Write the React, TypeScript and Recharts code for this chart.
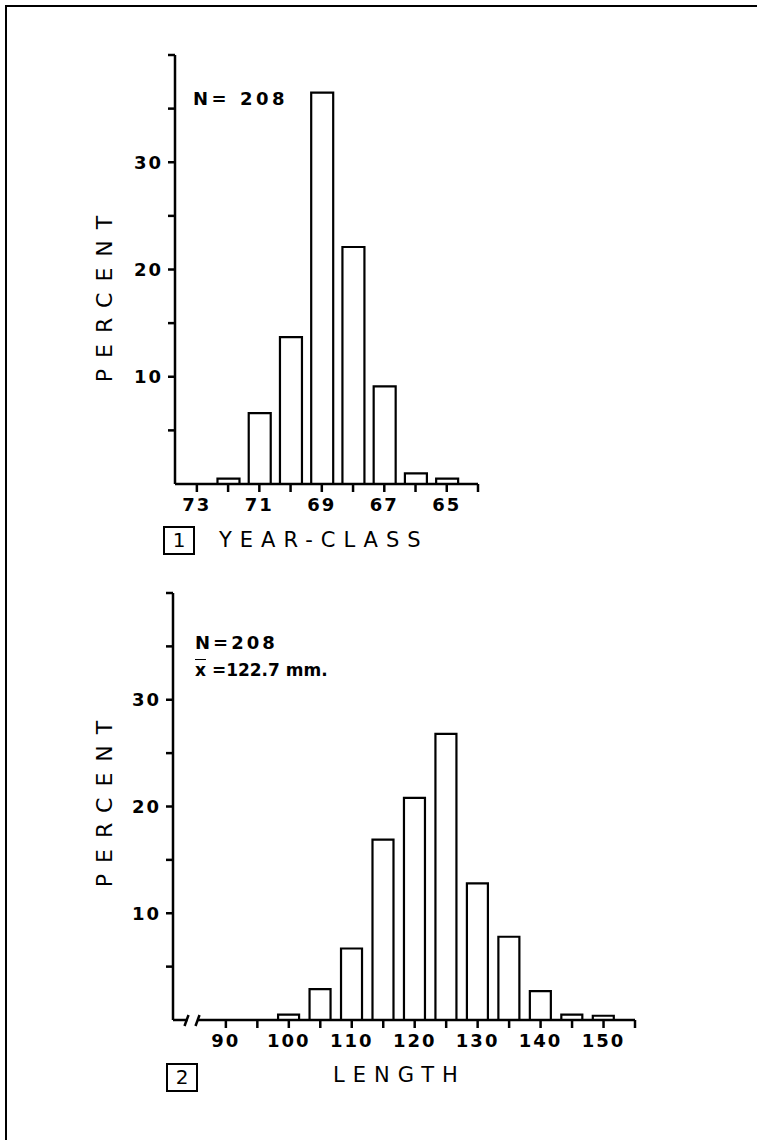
import { BarChart, Bar, XAxis, YAxis, ReferenceDot } from 'recharts';

// year-class histogram (panel 1)
const yearClasses = [72, 71, 70, 69, 68, 67, 66, 65];
const yearPercents = [0.5, 6.6, 13.7, 36.5, 22.1, 9.1, 1.0, 0.5];
const yearTicks = [64, 65, 66, 67, 68, 69, 70, 71, 72, 73];
const yearLabels = [65, 67, 69, 71, 73];

// length histogram (panel 2), 5 mm classes
const lengthClasses = [100, 105, 110, 115, 120, 125, 130, 135, 140, 145, 150];
const lengthPercents = [0.5, 2.9, 6.7, 16.9, 20.8, 26.8, 12.8, 7.8, 2.7, 0.5, 0.4];
const lengthTicks = [90, 95, 100, 105, 110, 115, 120, 125, 130, 135, 140, 145, 150, 155];
const lengthLabels = [90, 100, 110, 120, 130, 140, 150];

const percentTicks = [5, 10, 15, 20, 25, 30, 35, 40];
const percentLabels = [10, 20, 30];

const yearData = yearClasses.map((c, i) => ({ cls: c, pct: yearPercents[i] }));
const lengthData = lengthClasses.map((c, i) => ({ cls: c, pct: lengthPercents[i] }));

const FONT = '"DejaVu Sans", sans-serif';
const ink = '#000';
const tickStyle = { fill: ink, fontSize: 18, fontFamily: FONT, fontWeight: 700, letterSpacing: 2 };
const line = { stroke: ink, strokeWidth: 2.5 };

const showIf = (list: number[]) => (v: number) => (list.includes(v) ? String(v) : '');

function AxisBreak(props: any) {
  const { cx, cy } = props;
  return (
    <g>
      <rect x={cx - 5} y={cy - 3} width={10} height={6} fill="#fff" />
      <line x1={cx - 8} y1={cy + 6} x2={cx - 4} y2={cy - 5} stroke={ink} strokeWidth={2.5} />
      <line x1={cx + 3} y1={cy + 6} x2={cx + 7} y2={cy - 5} stroke={ink} strokeWidth={2.5} />
    </g>
  );
}

function PercentLabel({ top }: { top: number }) {
  return (
    <div
      style={{
        position: 'absolute',
        left: 104,
        top,
        transform: 'translate(-50%, -50%) rotate(-90deg)',
        fontFamily: FONT,
        fontSize: 22,
        letterSpacing: 11,
        whiteSpace: 'nowrap',
        paddingLeft: 11,
      }}
    >
      PERCENT
    </div>
  );
}

function PanelBox({ left, top, n }: { left: number; top: number; n: string }) {
  return (
    <div
      style={{
        position: 'absolute',
        left,
        top,
        width: 28,
        height: 25,
        border: '2px solid #000',
        fontFamily: FONT,
        fontSize: 20,
        lineHeight: '25px',
        textAlign: 'center',
      }}
    >
      {n}
    </div>
  );
}

const text = (left: number, top: number, size: number, spacing: number, bold = true) => ({
  position: 'absolute' as const,
  left,
  top,
  fontFamily: FONT,
  fontSize: size,
  fontWeight: bold ? 700 : 400,
  letterSpacing: spacing,
  whiteSpace: 'nowrap' as const,
  lineHeight: 1,
});

export default function App() {
  return (
    <div style={{ position: 'absolute', left: 0, top: 0, width: 757, height: 1140, background: '#fff', overflow: 'hidden' }}>
      {/* frame */}
      <div style={{ position: 'absolute', left: 5, top: 5, width: 800, height: 1200, borderTop: '2px solid #000', borderLeft: '2px solid #000' }} />

      {/* panel 1 */}
      <div style={{ position: 'absolute', left: 0, top: 0 }}>
        <BarChart width={757} height={560} data={yearData} margin={{ top: 55, left: 115, right: 279, bottom: 46 }}>
          <XAxis
            dataKey="cls"
            type="number"
            domain={[64, 73.7]}
            allowDataOverflow
            reversed
            ticks={yearTicks}
            interval={0}
            tickFormatter={showIf(yearLabels)}
            tick={tickStyle}
            tickSize={8}
            tickMargin={6}
            axisLine={line}
            tickLine={line}
            height={30}
          />
          <YAxis
            type="number"
            domain={[0, 40]}
            allowDataOverflow
            ticks={percentTicks}
            interval={0}
            tickFormatter={showIf(percentLabels)}
            tick={tickStyle}
            tickSize={7}
            tickMargin={5}
            axisLine={line}
            tickLine={line}
            width={60}
          />
          <Bar dataKey="pct" fill="#fff" stroke={ink} strokeWidth={2.2} barSize={22} isAnimationActive={false} />
        </BarChart>
      </div>
      <div style={text(193, 90, 18, 3.5)}>N= 208</div>
      <PercentLabel top={299} />
      <PanelBox left={163} top={526} n="1" />
      <div style={text(219, 530, 21, 8, false)}>YEAR-CLASS</div>

      {/* panel 2 */}
      <div style={{ position: 'absolute', left: 0, top: 540 }}>
        <BarChart width={757} height={540} data={lengthData} margin={{ top: 53, left: 113, right: 122, bottom: 30 }}>
          <XAxis
            dataKey="cls"
            type="number"
            domain={[81.6, 155]}
            allowDataOverflow
            ticks={lengthTicks}
            interval={0}
            tickFormatter={showIf(lengthLabels)}
            tick={tickStyle}
            tickSize={8}
            tickMargin={6}
            axisLine={line}
            tickLine={line}
            height={30}
          />
          <YAxis
            type="number"
            domain={[0, 40]}
            allowDataOverflow
            ticks={percentTicks}
            interval={0}
            tickFormatter={showIf(percentLabels)}
            tick={tickStyle}
            tickSize={7}
            tickMargin={5}
            axisLine={line}
            tickLine={line}
            width={60}
          />
          <Bar dataKey="pct" fill="#fff" stroke={ink} strokeWidth={2.2} barSize={21} isAnimationActive={false} />
          <ReferenceDot x={84.7} y={0} r={0} ifOverflow="visible" shape={AxisBreak} />
        </BarChart>
      </div>
      <div style={text(195, 634, 18, 3)}>N=208</div>
      <div style={text(195, 662, 17, 0)}>
        <span style={{ textDecoration: 'overline' }}>x</span> =122.7 mm.
      </div>
      <PercentLabel top={804} />
      <PanelBox left={166} top={1063} n="2" />
      <div style={text(333, 1065, 21, 8, false)}>LENGTH</div>
    </div>
  );
}
